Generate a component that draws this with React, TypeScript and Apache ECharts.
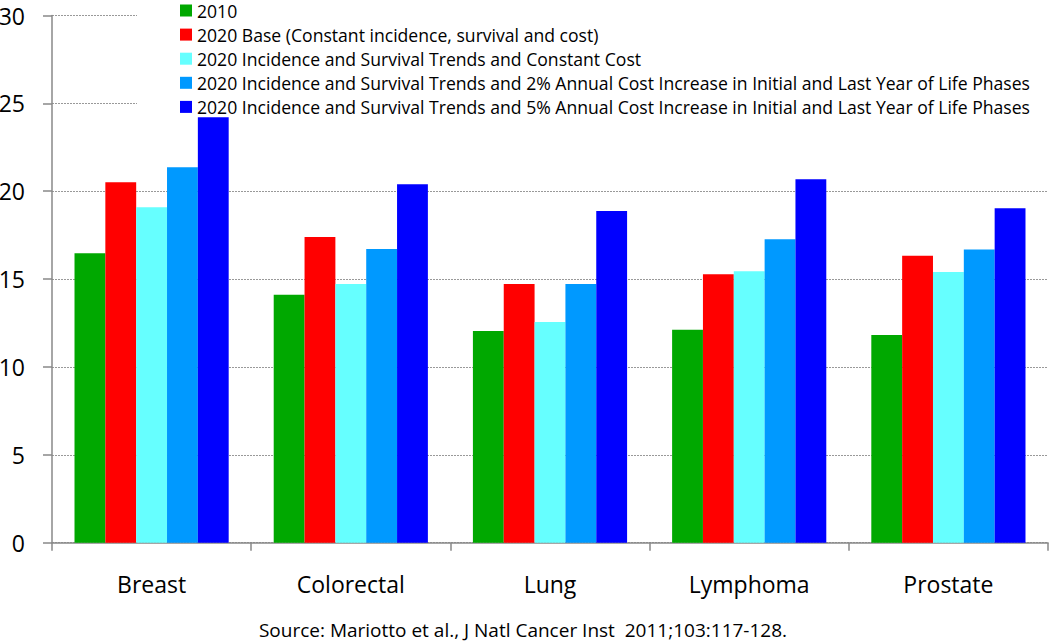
import React, { useEffect, useRef } from "react";
import * as echarts from "echarts";

const categories = ["Breast", "Colorectal", "Lung", "Lymphoma", "Prostate"];
const seriesNames = [
  "2010",
  "2020 Base (Constant incidence, survival and cost)",
  "2020 Incidence and Survival Trends and Constant Cost",
  "2020 Incidence and Survival Trends and 2% Annual Cost Increase in Initial and Last Year of Life Phases",
  "2020 Incidence and Survival Trends and 5% Annual Cost Increase in Initial and Last Year of Life Phases",
];
const values2010 = [16.47, 14.11, 12.05, 12.12, 11.82];
const values2020Base = [20.51, 17.4, 14.72, 15.27, 16.33];
const valuesTrendsConst = [19.09, 14.72, 12.56, 15.45, 15.41];
const valuesTrends2pct = [21.37, 16.71, 14.72, 17.27, 16.68];
const valuesTrends5pct = [24.21, 20.4, 18.87, 20.68, 19.03];
const colors = ["#00A800", "#FF0000", "#66FFFF", "#0099FF", "#0000FF"];
const yTicks = { min: 0, max: 30, interval: 5 };
const sourceText = "Source: Mariotto et al., J Natl Cancer Inst  2011;103:117-128.";

const FONT = "'Open Sans', 'Liberation Sans', sans-serif";

export default function App() {
  const ref = useRef<HTMLDivElement>(null);
  useEffect(() => {
    document.body.style.margin = "0";
    if (!ref.current) return;
    const chart = echarts.init(ref.current, null, { renderer: "svg" });
    const allValues = [values2010, values2020Base, valuesTrendsConst, valuesTrends2pct, valuesTrends5pct];
    chart.setOption({
      animation: false,
      textStyle: { fontFamily: FONT },
      grid: { left: 52, right: 2, top: 15.5, bottom: 98.3, containLabel: false, outerBoundsMode: "none" },
      legend: {
        orient: "vertical",
        left: 137,
        top: 0,
        padding: [1.5, 20, 0, 43],
        backgroundColor: "#ffffff",
        itemWidth: 12,
        itemHeight: 12,
        itemGap: 6.1,
        icon: "rect",
        textStyle: { fontSize: 17.6, color: "#000", lineHeight: 18, fontFamily: FONT },
        data: seriesNames,
      },
      xAxis: {
        type: "category",
        data: categories,
        axisLine: { lineStyle: { color: "#888888", width: 1.5 } },
        axisTick: { show: true, length: 8, lineStyle: { color: "#888888", width: 1.5 } },
        axisLabel: { fontSize: 23, color: "#000", margin: 30, fontFamily: FONT },
      },
      yAxis: {
        type: "value",
        min: yTicks.min,
        max: yTicks.max,
        interval: yTicks.interval,
        axisLine: { show: true, lineStyle: { color: "#888888", width: 1.5 } },
        axisTick: { show: true, length: 9, lineStyle: { color: "#888888", width: 1.5 } },
        axisLabel: { fontSize: 23, color: "#000", margin: 27, fontFamily: FONT },
        splitLine: { show: true, lineStyle: { color: "#999999", type: [2, 1], width: 1 } },
      },
      series: seriesNames.map((name, i) => ({
        name,
        type: "bar",
        data: allValues[i],
        barGap: "0%",
        barCategoryGap: "22.6%",
        itemStyle: { color: colors[i] },
      })),
      graphic: [
        {
          type: "text",
          x: 523,
          y: 629.5,
          style: {
            text: sourceText,
            font: `19px ${FONT}`,
            fill: "#000",
            textAlign: "center",
            textVerticalAlign: "middle",
          },
        },
      ],
    });
    return () => chart.dispose();
  }, []);
  return <div ref={ref} style={{ width: 1050, height: 641, position: "absolute", left: 0, top: 0 }} />;
}
